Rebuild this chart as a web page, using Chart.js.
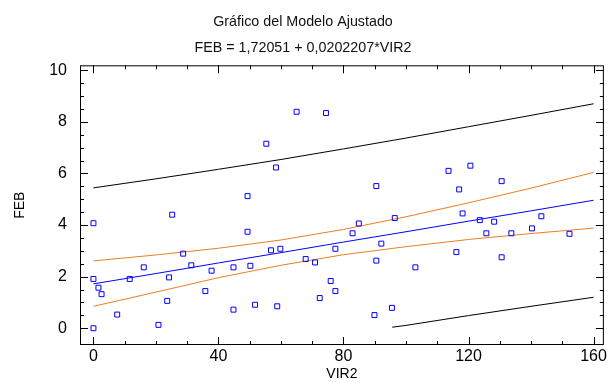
<!DOCTYPE html>
<html>
<head>
<meta charset="utf-8">
<script src="https://cdn.jsdelivr.net/npm/chart.js@4"></script>
<style>
  html, body { margin: 0; padding: 0; background: #fff; }
  #grafico { width: 609px; height: 383px; }
</style>
</head>
<body>
<div id="grafico"><canvas id="graficoModelo"></canvas></div>
<script>
// Datos observados (VIR2 x FEB)
var vir2 = [0, 0, 1.6, 2.6, 0, 7.6, 11.6, 16.1, 20.8, 23.6, 24.2, 25.2, 28.7, 31.3, 35.8, 37.8, 44.8, 44.8,
  49.3, 49.3, 50.2, 51.7, 65.0, 74.4, 55.3, 58.4, 90.5, 96.4, 84.9, 82.9, 92.1, 56.8, 59.8, 77.4, 67.9,
  70.9, 90.5, 103.0, 75.9, 77.4, 72.4, 58.8, 89.9, 95.5, 113.6, 120.6, 130.6, 117.0, 118.1, 123.6, 128.2,
  143.3, 140.3, 125.7, 133.7, 152.3, 116.1, 130.6];
var feb = [4.07, 1.91, 1.57, 1.32, 0, 0.53, 1.91, 2.36, 0.13, 1.06, 1.97, 4.40, 2.89, 2.44, 1.44, 2.23, 2.36, 0.72,
  5.12, 3.74, 2.42, 0.91, 8.39, 8.34, 7.15, 6.23, 5.51, 4.27, 4.06, 3.68, 3.28, 3.02, 3.08, 3.08, 2.68,
  2.55, 2.62, 2.36, 1.83, 1.44, 1.17, 0.85, 0.51, 0.79, 6.10, 6.30, 5.70, 5.38, 4.45, 4.19, 4.13,
  4.34, 3.87, 3.68, 3.68, 3.66, 2.95, 2.75];

// Linea ajustada y bandas
var xBanda = [0, 20, 40, 60, 80, 100, 120, 140, 160];
var ajuste = [1.72, 2.12, 2.53, 2.93, 3.34, 3.74, 4.15, 4.55, 4.96];
var confSup = [2.61, 2.84, 3.10, 3.42, 3.83, 4.32, 4.86, 5.43, 6.04];
var confInf = [0.85, 1.40, 1.96, 2.44, 2.85, 3.16, 3.44, 3.67, 3.88];
var predSup = [5.44, 5.79, 6.16, 6.54, 6.95, 7.37, 7.81, 8.25, 8.70];
var xPredInf = [95.6, 100, 120, 140, 160];
var predInf = [0.04, 0.11, 0.49, 0.85, 1.20];

var xTicks = [0, 40, 80, 120, 160];
var yTicks = [0, 2, 4, 6, 8, 10];

function pares(xs, ys) {
  var r = [];
  for (var i = 0; i < xs.length; i++) {
    r.push({ x: xs[i], y: ys[i] });
  }
  return r;
}

function linea(xs, ys, cor) {
  return {
    data: pares(xs, ys),
    showLine: true,
    borderColor: cor,
    borderWidth: 1,
    pointRadius: 0,
    fill: false
  };
}

// marco con marcas hacia dentro en los cuatro lados
var marco = {
  id: 'marco',
  afterDatasetsDraw: function (chart) {
    var ctx = chart.ctx, a = chart.chartArea;
    var sx = chart.scales.x, sy = chart.scales.y;
    ctx.save();
    ctx.strokeStyle = '#000';
    ctx.lineWidth = 1;
    ctx.strokeRect(a.left + 0.5, a.top + 0.5, a.right - a.left - 1, a.bottom - a.top - 1);
    ctx.beginPath();
    for (var v = xTicks[0]; v <= xTicks[xTicks.length - 1]; v += 10) {
      var px = Math.round(sx.getPixelForValue(v)) + 0.5;
      var len = xTicks.indexOf(v) >= 0 ? 8 : 4;
      ctx.moveTo(px, a.bottom); ctx.lineTo(px, a.bottom - len);
      ctx.moveTo(px, a.top); ctx.lineTo(px, a.top + len);
    }
    for (var w = yTicks[0]; w <= yTicks[yTicks.length - 1]; w += 0.5) {
      var py = Math.round(sy.getPixelForValue(w)) + 0.5;
      var l2 = yTicks.indexOf(w) >= 0 ? 8 : 4;
      ctx.moveTo(a.left, py); ctx.lineTo(a.left + l2, py);
      ctx.moveTo(a.right, py); ctx.lineTo(a.right - l2, py);
    }
    ctx.stroke();
    ctx.restore();
  }
};

var ctx = document.getElementById('graficoModelo').getContext('2d');
var chart = new Chart(ctx, {
  type: 'scatter',
  data: {
    datasets: [
      {
        data: pares(vir2, feb),
        pointStyle: 'rect',
        pointRadius: 3.5,
        pointBorderWidth: 1,
        borderColor: '#0000ff',
        backgroundColor: 'rgba(255,255,255,0)'
      },
      linea(xBanda, ajuste, '#0000ff'),
      linea(xBanda, confSup, '#ee7d22'),
      linea(xBanda, confInf, '#ee7d22'),
      linea(xBanda, predSup, '#000000'),
      linea(xPredInf, predInf, '#000000')
    ]
  },
  options: {
    responsive: true,
    maintainAspectRatio: false,
    animation: false,
    layout: { padding: { left: 0, right: 3, top: 0, bottom: 0 } },
    plugins: {
      legend: { display: false },
      tooltip: { enabled: false },
      title: {
        display: true,
        text: 'Gráfico del Modelo Ajustado',
        color: '#111',
        font: { family: 'Liberation Sans', size: 14.3, weight: 'normal' },
        padding: { top: 13, bottom: 0 }
      },
      subtitle: {
        display: true,
        text: 'FEB = 1,72051 + 0,0202207*VIR2',
        color: '#111',
        font: { family: 'Liberation Sans', size: 14.3 },
        padding: { top: 9, bottom: 9 }
      }
    },
    scales: {
      x: {
        type: 'linear',
        min: -4.3,
        max: 163.3,
        afterBuildTicks: function (s) { s.ticks = xTicks.map(function (v) { return { value: v }; }); },
        afterFit: function (s) { s.height = 38; },
        grid: { display: false, drawTicks: false },
        border: { display: false },
        ticks: { color: '#000', padding: 2, maxRotation: 0, font: { family: 'Liberation Sans', size: 16 } },
        title: { display: true, text: 'VIR2', color: '#000', padding: 0, font: { family: 'Liberation Sans', size: 14 } }
      },
      y: {
        type: 'linear',
        min: -0.65,
        max: 10.19,
        afterBuildTicks: function (s) { s.ticks = yTicks.map(function (v) { return { value: v }; }); },
        afterFit: function (s) { s.width = 80; },
        grid: { display: false, drawTicks: false },
        border: { display: false },
        ticks: { color: '#000', padding: 13, font: { family: 'Liberation Sans', size: 16 } },
        title: { display: true, text: 'FEB', color: '#000', padding: 12, font: { family: 'Liberation Sans', size: 14 } }
      }
    }
  },
  plugins: [marco]
});
</script>
</body>
</html>
